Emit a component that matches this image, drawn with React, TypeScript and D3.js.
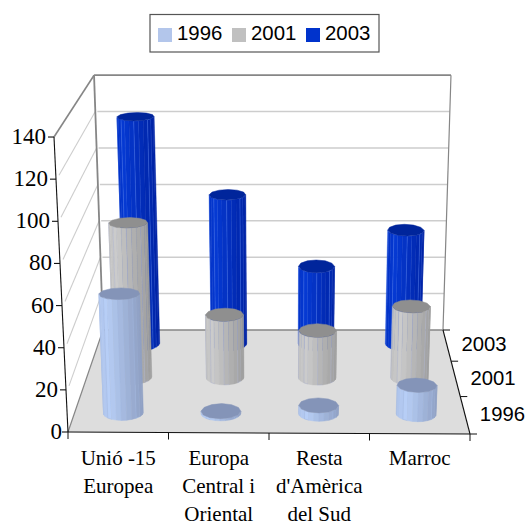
import React from "react";
import * as d3 from "d3";

const categories = [["Unió -15", "Europea"], ["Europa", "Central i", "Oriental"], ["Resta", "d'Amèrica", "del Sud"], ["Marroc"]];
const seriesNames = ["1996", "2001", "2003"];
const values1996 = [58, 1, 4, 14];
const values2001 = [79, 32, 24, 36.5];
const values2003 = [122, 80, 41.5, 61];
const valueTicks = [0, 20, 40, 60, 80, 100, 120, 140];

const styles = [
  { swatch: "#B3C6EB", light: "#B7CEF6", dark: "#8FA0C4", top: "#8494B8", line: "#9DB4E0" },
  { swatch: "#C0C0C0", light: "#CBCBCB", dark: "#9E9E9E", top: "#8F8F8F", line: "#A9AEC8" },
  { swatch: "#0033CC", light: "#0539D2", dark: "#0024A6", top: "#00259B", line: "#3F6CE6" },
];

const lerp = (a: number, b: number, t: number) => a + (b - a) * t;
const leftFloorX = d3.scaleLinear().domain([0, 1]).range([68, 103]);
const rightFloorX = d3.scaleLinear().domain([0, 1]).range([470, 443]);
const leftFloorY = d3.scaleLinear().domain([0, 1]).range([432, 330]);
const rightFloorY = d3.scaleLinear().domain([0, 1]).range([434, 330]);
const pxPerUnit = d3.scaleLinear().domain([0, 1]).range([2.107, 1.82]);
const leanLeft = d3.scaleLinear().domain([0, 1]).range([-0.1, -0.064]);
const leanRight = d3.scaleLinear().domain([0, 1]).range([0.1, 0.057]);
const depthEdges = d3.scaleLinear().domain([0, 1, 2, 3]).range([0, 0.36, 0.7, 1]);
const depthCenters = [0.19, 0.54, 0.87];
const catU = d3.scaleBand<number>().domain([0, 1, 2, 3]).range([0, 1]);
const depthRadius = d3.scaleLinear().domain([0, 140]).range([0.074, 0.06]);

function project(u: number, t: number, v: number): [number, number] {
  const xl = leftFloorX(t) + leanLeft(t) * v;
  const xr = rightFloorX(t) + leanRight(t) * v;
  const y = lerp(leftFloorY(t), rightFloorY(t), u) - v * pxPerUnit(t);
  return [lerp(xl, xr, u), y];
}
const poly = (pts: [number, number][]) => pts.map((p) => p.map((n) => n.toFixed(1)).join(",")).join(" ");

const BODY_SIDES = 24;
const TOP_SIDES = 12;
const RU = 0.051;

function Cylinder({ cat, row, value }: { cat: number; row: number; value: number }) {
  const s = styles[row];
  const uc = catU(cat)! + catU.bandwidth() / 2;
  const tc = depthCenters[row];
  const ring = (v: number, rt: number, n: number) =>
    d3.range(n).map((i) => {
      const a = (i / n) * 2 * Math.PI;
      return project(uc + RU * Math.cos(a), tc + rt * Math.sin(a), v);
    });
  const bottom = ring(0, depthRadius(0), BODY_SIDES);
  const top = ring(value, depthRadius(value), BODY_SIDES);
  const cap = ring(value, depthRadius(value), TOP_SIDES);
  const shade = d3.scaleLinear<number>().domain([-1, -0.6, 1]).range([0.25, 0, 1]);
  const mix = d3.interpolateRgb(s.light, s.dark);
  const facets = d3.range(BODY_SIDES).filter((i) => Math.sin(((i + 0.5) / BODY_SIDES) * 2 * Math.PI) < 0);
  return (
    <g>
      {facets.map((i) => {
        const j = (i + 1) % BODY_SIDES;
        const mid = ((i + 0.5) / BODY_SIDES) * 2 * Math.PI;
        return (
          <polygon
            key={i}
            points={poly([bottom[i], bottom[j], top[j], top[i]])}
            fill={mix(shade(Math.cos(mid)))}
            stroke={i % 3 === 0 ? s.line : mix(shade(Math.cos(mid)))}
            strokeWidth={0.5}
          />
        );
      })}
      <polygon points={poly(cap)} fill={s.top} stroke={s.top} strokeWidth={0.5} />
    </g>
  );
}

export default function App() {
  const rows = [values1996, values2001, values2003];
  const gridGray = "#CDCDCD";
  const wallGray = "#868686";
  const floorCorners: [number, number][] = [project(0, 0, 0), project(1, 0, 0), project(1, 1, 0), project(0, 1, 0)];
  const ink = "#111";
  return (
    <svg width={526} height={525} style={{ position: "absolute", left: 0, top: 0, background: "#fff" }}>
      {/* walls */}
      {valueTicks.slice(1, -1).map((v) => {
        const a = project(0, 0, v), b = project(0, 1, v), c = project(1, 1, v);
        return (
          <g key={v}>
            <line x1={a[0] + 3} y1={a[1] - 4} x2={b[0]} y2={b[1]} stroke={gridGray} strokeWidth={1.1} />
            <line x1={b[0] + 2} y1={b[1]} x2={c[0]} y2={c[1]} stroke={gridGray} strokeWidth={1.5} />
          </g>
        );
      })}
      <line x1={project(0, 0, 140)[0]} y1={project(0, 0, 140)[1]} x2={project(0, 1, 140)[0]} y2={project(0, 1, 140)[1]} stroke={wallGray} strokeWidth={1.6} />
      <line x1={project(0, 1, 140)[0]} y1={project(0, 1, 140)[1]} x2={project(1, 1, 140)[0]} y2={project(1, 1, 140)[1]} stroke={wallGray} strokeWidth={1.8} />
      <line x1={project(0, 1, 140)[0]} y1={project(0, 1, 140)[1]} x2={project(0, 1, 0)[0]} y2={project(0, 1, 0)[1]} stroke={wallGray} strokeWidth={1.8} />
      <line x1={project(1, 1, 140)[0]} y1={project(1, 1, 140)[1]} x2={project(1, 1, 0)[0]} y2={project(1, 1, 0)[1]} stroke={wallGray} strokeWidth={1.2} />
      {/* floor */}
      <polygon points={poly(floorCorners)} fill="#DDDDDD" />
      <line x1={floorCorners[3][0]} y1={floorCorners[3][1]} x2={floorCorners[2][0]} y2={floorCorners[2][1]} stroke={wallGray} strokeWidth={1.4} />
      <line x1={floorCorners[0][0]} y1={floorCorners[0][1]} x2={floorCorners[3][0]} y2={floorCorners[3][1]} stroke={wallGray} strokeWidth={1.2} />

      {/* cylinders, back to front */}
      {[2, 1, 0].map((row) =>
        rows[row].map((v, c) => <Cylinder key={`${row}-${c}`} cat={c} row={row} value={v} />)
      )}

      {/* value axis */}
      <line x1={project(0, 0, 0)[0]} y1={project(0, 0, 0)[1]} x2={project(0, 0, 140)[0]} y2={project(0, 0, 140)[1]} stroke={ink} strokeWidth={1.1} />
      {valueTicks.map((v) => {
        const p = project(0, 0, v);
        return (
          <g key={v}>
            <line x1={p[0] - 6} y1={p[1]} x2={p[0]} y2={p[1]} stroke={ink} strokeWidth={1.1} />
            <text x={p[0] - 8 + (v === 0 ? 2 : 0)} y={p[1] + 7} textAnchor="end" fontFamily="'Liberation Serif'" fontSize={23} fill="#000">{v}</text>
          </g>
        );
      })}

      {/* category axis */}
      <line x1={floorCorners[0][0]} y1={floorCorners[0][1]} x2={floorCorners[1][0]} y2={floorCorners[1][1]} stroke={ink} strokeWidth={1.1} />
      {d3.range(5).map((i) => {
        const p = project(i / 4, 0, 0);
        return <line key={i} x1={p[0]} y1={p[1]} x2={p[0]} y2={p[1] + 7} stroke={ink} strokeWidth={1} />;
      })}
      {categories.map((lines, c) => {
        const p = project((c + 0.5) / 4, 0, 0);
        return (
          <text key={c} textAnchor="middle" fontFamily="'Liberation Serif'" fontSize={21} fill="#000">
            {lines.map((l, i) => (
              <tspan key={i} x={p[0]} y={465 + i * 28}>{l}</tspan>
            ))}
          </text>
        );
      })}

      {/* depth axis */}
      <line x1={floorCorners[1][0]} y1={floorCorners[1][1]} x2={floorCorners[2][0]} y2={floorCorners[2][1]} stroke={ink} strokeWidth={1.1} />
      {d3.range(4).map((i) => {
        const p = project(1, depthEdges(i), 0);
        return <line key={i} x1={p[0]} y1={p[1]} x2={p[0] + 7} y2={p[1]} stroke={ink} strokeWidth={1} />;
      })}
      {seriesNames.map((name, r) => {
        const p = project(1, depthCenters[r], 0);
        return (
          <text key={name} x={p[0] + 15} y={p[1] + 7} fontFamily="'Liberation Sans'" fontSize={20.3} fill="#000">{name}</text>
        );
      })}

      {/* legend */}
      <rect x={150} y={14.5} width={229} height={37.5} fill="#fff" stroke="#555" strokeWidth={1.2} />
      {seriesNames.map((name, r) => {
        const x = 158 + r * 74;
        return (
          <g key={name}>
            <rect x={x} y={28} width={14} height={14} fill={styles[r].swatch} />
            <text x={x + 19} y={39.5} fontFamily="'Liberation Sans'" fontSize={20.4} fill="#000">{name}</text>
          </g>
        );
      })}
    </svg>
  );
}
